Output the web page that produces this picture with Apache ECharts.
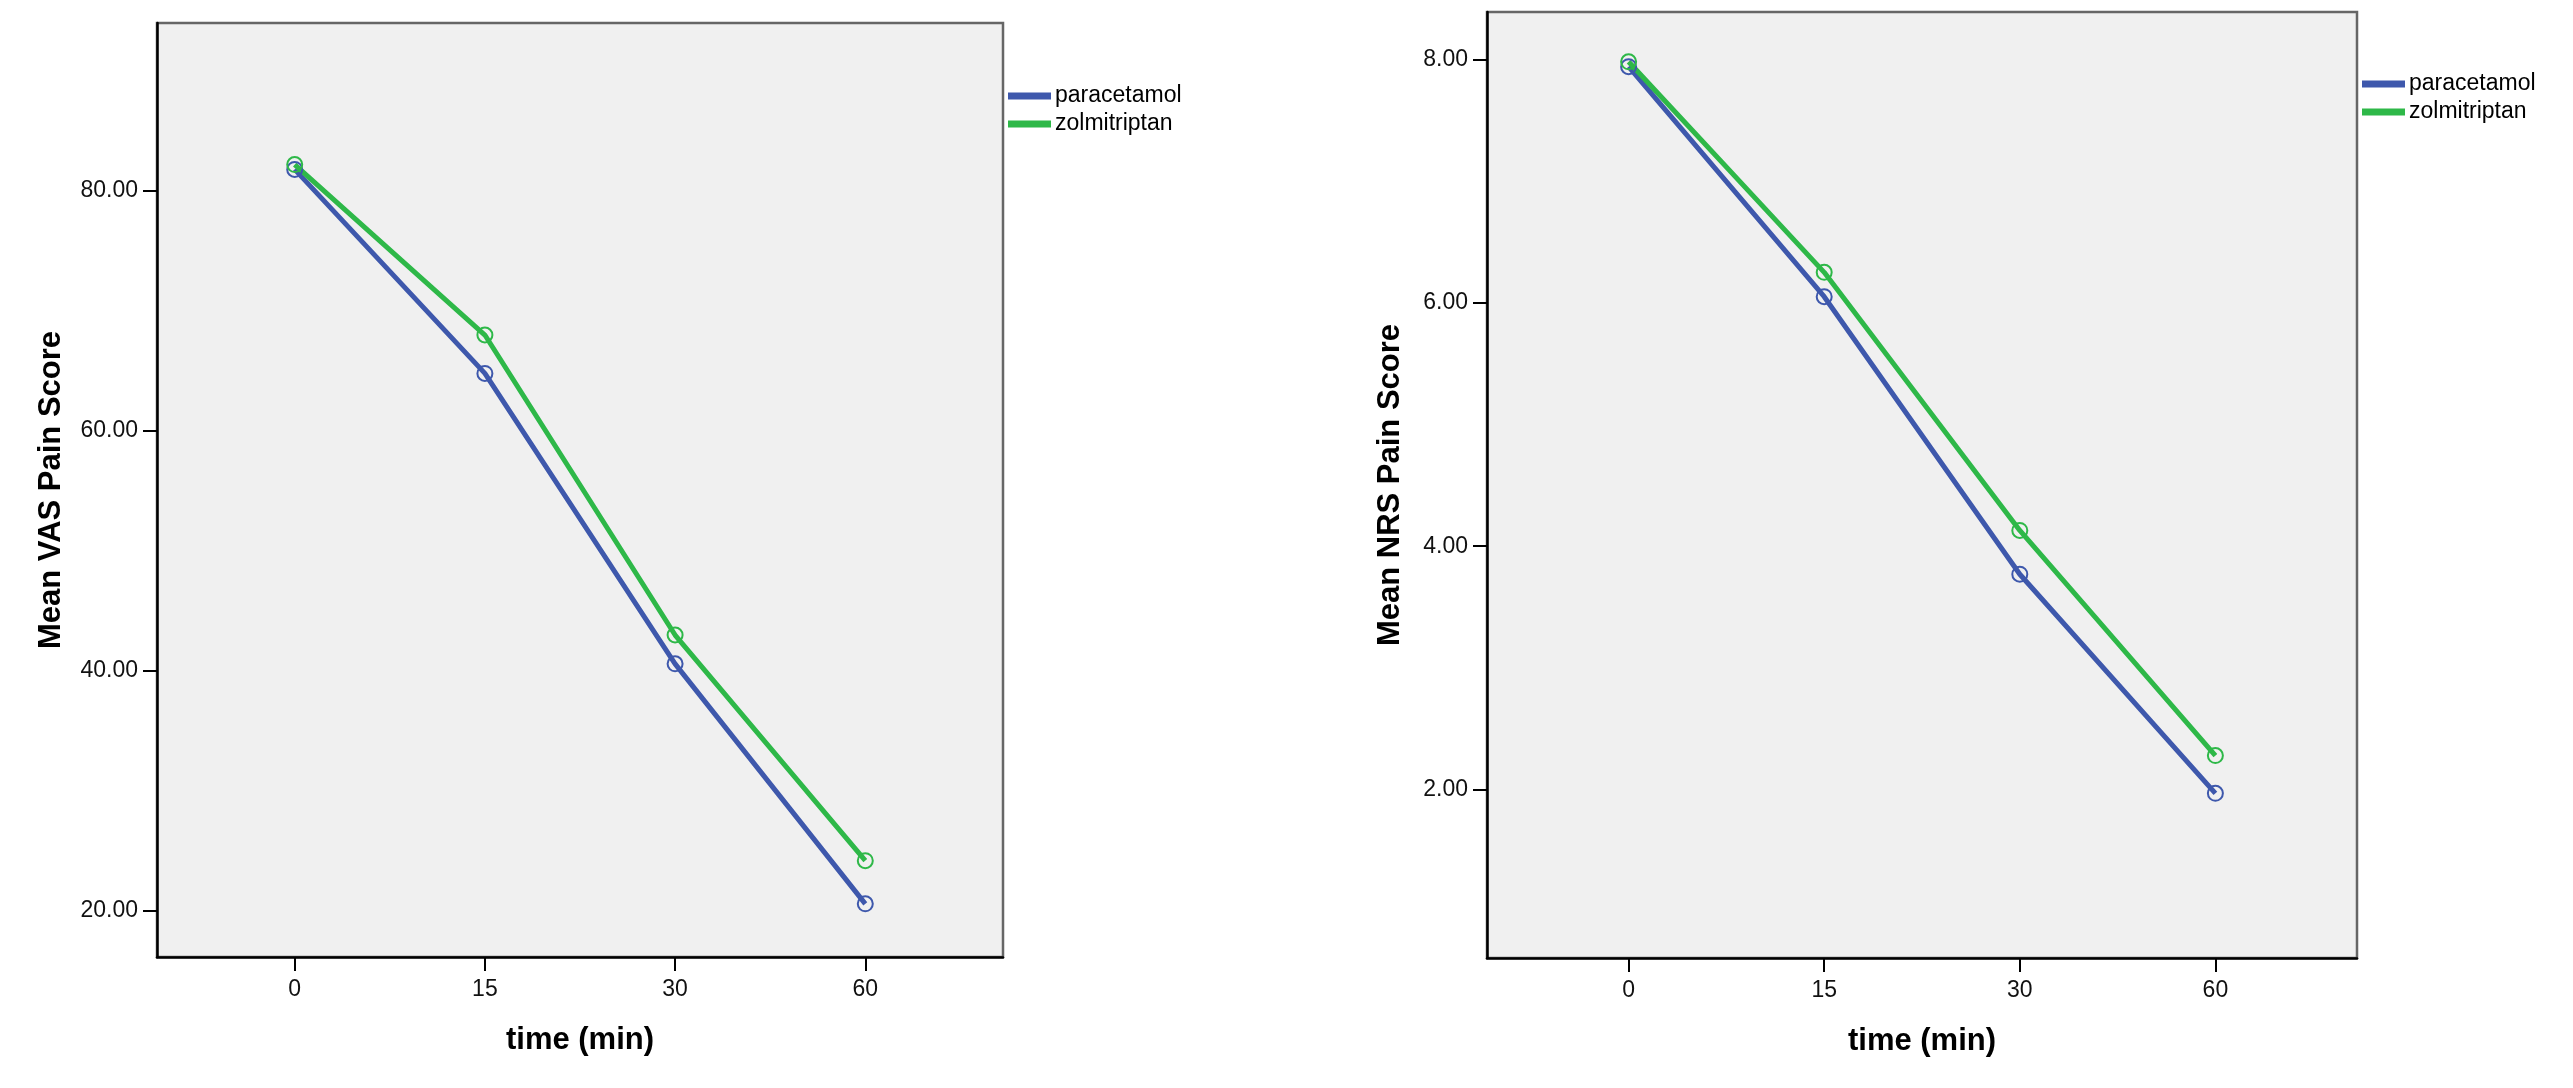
<!DOCTYPE html>
<html>
<head>
<meta charset="utf-8">
<script src="https://cdn.jsdelivr.net/npm/echarts@6/dist/echarts.min.js"></script>
<style>
html,body{margin:0;padding:0;background:#fff;}
#c{width:2573px;height:1088px;}
</style>
</head>
<body>
<div id="c"></div>
<script>
// ---- data ----
var timeLabels = ['0', '15', '30', '60'];
var seriesNames = ['paracetamol', 'zolmitriptan'];
var vasParacetamol = [81.8, 64.8, 40.6, 20.6];
var vasZolmitriptan = [82.2, 68.0, 43.0, 24.2];
var nrsParacetamol = [7.94, 6.05, 3.77, 1.97];
var nrsZolmitriptan = [7.98, 6.25, 4.13, 2.28];
var vasTicks = [20, 40, 60, 80];
var nrsTicks = [2, 4, 6, 8];

var BLUE = '#3E58AC', GREEN = '#2EB848';
var FONT = 'Liberation Sans, Arial, sans-serif';

function pts(vals) { return vals.map(function (v, i) { return [i, v]; }); }
var xIdx = timeLabels.map(function (t, i) { return i; });

function xAxis(gi) {
  return {
    type: 'value', gridIndex: gi, min: -0.724, max: timeLabels.length - 1 + 0.724,
    name: 'time (min)', nameLocation: 'middle', nameGap: 68,
    nameTextStyle: { fontFamily: FONT, fontWeight: 'bold', fontSize: 31, color: '#000' },
    axisLine: { show: true, onZero: false, lineStyle: { color: '#000', width: 2.5 } },
    axisTick: { show: true, length: 14, customValues: xIdx, lineStyle: { color: '#000', width: 2 } },
    axisLabel: { customValues: xIdx, margin: 21, fontFamily: FONT, fontSize: 23, color: '#111',
      formatter: function (v) { return timeLabels[Math.round(v)]; } },
    splitLine: { show: false }
  };
}
function yAxis(gi, min, max, ticks, title, gap) {
  return {
    type: 'value', gridIndex: gi, min: min, max: max,
    name: title, nameLocation: 'middle', nameGap: gap, nameRotate: 90,
    nameTextStyle: { fontFamily: FONT, fontWeight: 'bold', fontSize: 31, color: '#000' },
    axisLine: { show: true, onZero: false, lineStyle: { color: '#000', width: 2.5 } },
    axisTick: { show: true, length: 14, customValues: ticks, lineStyle: { color: '#000', width: 2 } },
    axisLabel: { customValues: ticks, margin: 19, fontFamily: FONT, fontSize: 23, color: '#111',
      formatter: function (v) { return Number(v).toFixed(2); } },
    splitLine: { show: false }
  };
}
function line(name, vals, color, gi) {
  return {
    type: 'line', name: name, xAxisIndex: gi, yAxisIndex: gi, data: pts(vals),
    symbol: 'circle', symbolSize: 15, showSymbol: true,
    lineStyle: { color: color, width: 5 },
    itemStyle: { color: 'rgba(0,0,0,0)', borderColor: color, borderWidth: 2 },
    emphasis: { disabled: true }, animation: false, z: 3
  };
}
function legend(left, top) {
  return {
    orient: 'vertical', left: left, top: top, padding: 0, icon: 'rect', itemWidth: 41, itemHeight: 5,
    itemGap: 2, selectedMode: false,
    textStyle: { fontFamily: FONT, fontSize: 23, color: '#000', lineHeight: 26 },
    data: [
      { name: seriesNames[0], itemStyle: { color: BLUE } },
      { name: seriesNames[1], itemStyle: { color: GREEN } }
    ]
  };
}

var chart = echarts.init(document.getElementById('c'), null, { renderer: 'canvas' });
chart.setOption({
  animation: false,
  backgroundColor: '#fff',
  grid: [
    { left: 157, top: 23, width: 846, height: 934, show: true, backgroundColor: '#F0F0F0', borderColor: '#666', borderWidth: 2.5 },
    { left: 1487, top: 12, width: 870, height: 946, show: true, backgroundColor: '#F0F0F0', borderColor: '#666', borderWidth: 2.5 }
  ],
  legend: [legend(1008, 83), legend(2362, 71)],
  xAxis: [xAxis(0), xAxis(1)],
  yAxis: [
    yAxis(0, 16.17, 94.0, vasTicks, 'Mean VAS Pain Score', 90),
    yAxis(1, 0.617, 8.389, nrsTicks, 'Mean NRS Pain Score', 81)
  ],
  series: [
    line(seriesNames[0], vasParacetamol, BLUE, 0),
    line(seriesNames[1], vasZolmitriptan, GREEN, 0),
    line(seriesNames[0], nrsParacetamol, BLUE, 1),
    line(seriesNames[1], nrsZolmitriptan, GREEN, 1)
  ]
});
</script>
</body>
</html>
